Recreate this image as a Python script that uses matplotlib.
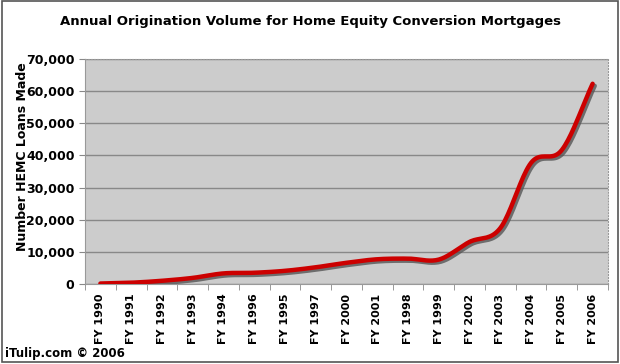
import numpy as np
import matplotlib
matplotlib.use("Agg")
import matplotlib.pyplot as plt
import matplotlib.patheffects as pe
from matplotlib.ticker import FuncFormatter, FixedLocator
from matplotlib.patches import Rectangle

categories = ["FY 1990", "FY 1991", "FY 1992", "FY 1993", "FY 1994", "FY 1996",
              "FY 1995", "FY 1997", "FY 2000", "FY 2001", "FY 1998", "FY 1999",
              "FY 2002", "FY 2003", "FY 2004", "FY 2005", "FY 2006"]
loans = [150, 400, 1000, 1900, 3300, 3500, 4100, 5200, 6600, 7700, 7900, 7600,
         13100, 17400, 37700, 41700, 62300]
yticks = [0, 10000, 20000, 30000, 40000, 50000, 60000, 70000]

title = "Annual Origination Volume for Home Equity Conversion Mortgages"
ylabel = "Number HEMC Loans Made"
footer = "iTulip.com \u00a9 2006"

def smooth(xs, ys, n=20):
    # Catmull-Rom rendering of the line (Excel "smoothed line" look)
    xs = np.asarray(xs, float); ys = np.asarray(ys, float)
    px = np.concatenate([[2*xs[0]-xs[1]], xs, [2*xs[-1]-xs[-2]]])
    py = np.concatenate([[2*ys[0]-ys[1]], ys, [2*ys[-1]-ys[-2]]])
    ox, oy = [], []
    for i in range(1, len(px)-2):
        t = np.linspace(0, 1, n, endpoint=False)
        for p, o in ((px, ox), (py, oy)):
            p0, p1, p2, p3 = p[i-1], p[i], p[i+1], p[i+2]
            o.extend(0.5*((2*p1) + (-p0+p2)*t + (2*p0-5*p1+4*p2-p3)*t**2 + (-p0+3*p1-3*p2+p3)*t**3))
    ox.append(xs[-1]); oy.append(ys[-1])
    return np.array(ox), np.array(oy)

plt.rcParams['font.family'] = ['DejaVu Sans']
fig = plt.figure(figsize=(6.2, 3.64), dpi=100)
fig.patch.set_facecolor("white")
ax = fig.add_axes([85/620, 1-284/364, 523/620, 225/364])
ax.set_facecolor("#cccccc")

x = np.arange(len(categories))
sx, sy = smooth(x, loans)
ax.plot(sx, sy, color="#cc0000", lw=3.2, solid_capstyle="round",
        path_effects=[pe.SimpleLineShadow(offset=(1.5, -1.5), shadow_color="#555555", alpha=0.8),
                      pe.Normal()], zorder=3)

ax.set_xlim(-0.5, len(categories)-0.5)
ax.set_ylim(0, 70000)
ax.set_yticks(yticks)
ax.yaxis.set_major_formatter(FuncFormatter(lambda v, p: f"{int(v):,}"))
ax.grid(axis="y", color="#888888", lw=1.0)
ax.set_axisbelow(True)

ax.set_xticks(x)
ax.set_xticklabels(categories, rotation=90, fontsize=8, fontweight="bold", va="top")
ax.xaxis.set_minor_locator(FixedLocator(np.arange(-0.5, len(categories), 1)))
ax.tick_params(axis="x", which="major", length=0, pad=7)
ax.tick_params(axis="x", which="minor", length=4, color="#888888")
ax.tick_params(axis="y", length=4, color="#888888", labelsize=9)
for lab in ax.get_yticklabels():
    lab.set_fontweight("bold")

for s in ["top", "right"]:
    ax.spines[s].set_color("#999999")
    ax.spines[s].set_linestyle(":")
    ax.spines[s].set_linewidth(0.8)
ax.spines["left"].set_color("#999999")
ax.spines["bottom"].set_color("#999999")
ax.spines["left"].set_linewidth(0.8)
ax.spines["bottom"].set_linewidth(0.8)

ax.set_ylabel(ylabel, fontsize=9, fontweight="bold")
ax.yaxis.set_label_coords(-0.108, 0.564)
fig.text(310/620, 1-22/364, title, ha="center", va="center", fontsize=9.5, fontweight="bold")
fig.text(5/620, 1-353/364, footer, ha="left", va="center", fontsize=8.5, fontweight="bold")

fig.add_artist(Rectangle((0.004, 0.006), 0.992, 0.99, transform=fig.transFigure,
                         fill=False, edgecolor="#555555", lw=1.2))

fig.savefig("out.png", dpi=100)
